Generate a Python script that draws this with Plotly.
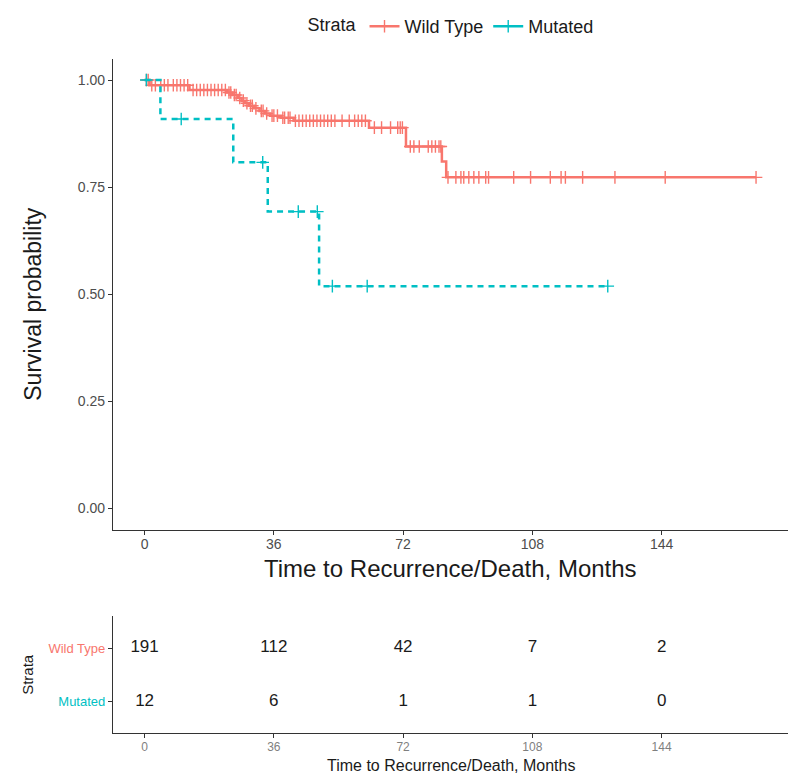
import numpy as np
import plotly.graph_objects as go

# ---------------- data ----------------
strata = ["Wild Type", "Mutated"]
colors = ["#F8766D", "#00BFC4"]

# Wild Type Kaplan-Meier steps (time in months, survival after step)
wt_time = [0, 1.4, 12.5, 23.0, 24.5, 26.0, 27.0, 28.0, 29.0, 30.5, 32.0, 33.5,
           35.0, 38.0, 41.5, 62.5, 72.8, 82.8, 84.0]
wt_surv = [1.0, 0.988, 0.977, 0.971, 0.965, 0.958, 0.952, 0.946, 0.940, 0.934,
           0.928, 0.922, 0.917, 0.912, 0.905, 0.889, 0.845, 0.810, 0.773]
wt_end = 170.3
wt_censor = [0.5, 1.0, 2.0, 3.0, 4.5, 5.5, 6.5, 8.0, 9.0, 10.0, 11.0, 12.0, 13.5,
             14.5, 15.5, 16.5, 17.5, 18.5, 19.5, 20.5, 21.5, 22.5,
             23.5, 24.0, 25.0, 25.5, 26.5, 27.5, 28.5, 29.5, 30.0, 31.0, 32.5,
             33.0, 34.0, 35.5, 36.0, 37.0, 38.5, 39.0, 40.0, 40.5,
             42.0, 43.0, 44.0, 45.0, 46.0, 47.0, 48.0, 49.0, 50.0, 51.0, 52.0,
             53.0, 55.0, 57.0, 58.5, 59.5, 60.5, 61.5,
             64.0, 66.0, 68.5, 70.5, 71.2, 71.8,
             74.0, 75.0, 76.5, 79.0, 80.0, 81.0, 82.0, 82.5,
             84.5, 86.7, 88.1, 88.9, 90.3, 91.7, 93.1, 95.0, 95.8, 102.8, 107.5,
             113.0, 116.0, 117.2, 122.0, 131.0, 145.0, 170.3]

# Mutated Kaplan-Meier steps
mu_time = [0, 4.4, 24.7, 34.3, 48.6]
mu_surv = [1.0, 0.909, 0.808, 0.693, 0.519]
mu_end = 129.0
mu_censor = [0.5, 10.2, 32.9, 42.8, 48.1, 52.3, 62.0, 129.0]

# Numbers at risk
risk_times = [0, 36, 72, 108, 144]
risk_wt = [191, 112, 42, 7, 2]
risk_mu = [12, 6, 1, 1, 0]

x_ticks = [0, 36, 72, 108, 144]
y_ticks = [0, 0.25, 0.5, 0.75, 1.0]
y_ticklabels = ["0.00", "0.25", "0.50", "0.75", "1.00"]

# ---------------- figure ----------------
OFF = 8                      # page body margin in the browser
W, H = 800 - OFF, 782 - OFF
FONT = "Liberation Sans, Arial, Helvetica, sans-serif"


def px_x(p):
    return (p - OFF) / W


def px_y(p):
    return 1 - (p - OFF) / H


def surv_at(times, surv, t):
    idx = np.searchsorted(np.array(times), t, side="right") - 1
    return [surv[i] for i in idx]


fig = go.Figure()

series = [
    (strata[0], colors[0], wt_time, wt_surv, wt_end, wt_censor, "solid"),
    (strata[1], colors[1], mu_time, mu_surv, mu_end, mu_censor, "6px,5px"),
]

for name, col, tt, ss, end, cens, dash in series:
    fig.add_trace(go.Scatter(
        x=list(tt) + [end], y=list(ss) + [ss[-1]],
        mode="lines", line=dict(color=col, width=2.5, dash=dash, shape="hv"),
        showlegend=False, hoverinfo="skip", xaxis="x", yaxis="y"))
    fig.add_trace(go.Scatter(
        x=cens, y=surv_at(tt, ss, cens), mode="markers",
        marker=dict(symbol="cross-thin", size=9, color=col,
                    line=dict(color=col, width=1.4)),
        showlegend=False, xaxis="x", yaxis="y"))
    # legend entry
    fig.add_trace(go.Scatter(
        x=[None], y=[None], mode="lines+markers", name=name,
        line=dict(color=col, width=2.3),
        marker=dict(symbol="cross-thin", size=9, color=col,
                    line=dict(color=col, width=1.4)),
        xaxis="x", yaxis="y"))

# risk table numbers
fig.add_trace(go.Scatter(
    x=risk_times + risk_times, y=[2] * len(risk_wt) + [1] * len(risk_mu),
    text=[str(v) for v in risk_wt + risk_mu], mode="text",
    textfont=dict(size=17, color="#1a1a1a", family=FONT),
    showlegend=False, hoverinfo="skip", xaxis="x2", yaxis="y2"))

x_dom = [px_x(113), px_x(788)]
axis_common = dict(showline=True, linecolor="#333333", linewidth=1.2,
                   ticks="outside", ticklen=4, tickcolor="#333333",
                   showgrid=False, zeroline=False)

fig.update_layout(
    width=W, height=H,
    margin=dict(l=0, r=0, t=0, b=0),
    paper_bgcolor="white", plot_bgcolor="white",
    font=dict(family=FONT, color="#1a1a1a"),
    xaxis=dict(domain=x_dom, range=[-8.8, 179.2], tickvals=x_ticks,
               tickfont=dict(size=14, color="#4d4d4d"), anchor="y",
               ticklabelstandoff=-3, **axis_common),
    yaxis=dict(domain=[px_y(528), px_y(53)], range=[-0.05, 1.05],
               tickvals=y_ticks, ticktext=y_ticklabels,
               tickfont=dict(size=14, color="#4d4d4d"), anchor="x",
               **axis_common),
    xaxis2=dict(domain=x_dom, range=[-8.8, 179.2], tickvals=x_ticks,
                tickfont=dict(size=12, color="#7f7f7f"), anchor="y2",
                ticklabelstandoff=-2, **axis_common),
    yaxis2=dict(domain=[px_y(733), px_y(615)], range=[0.4, 2.6],
                tickvals=[2, 1],
                ticktext=[f'<span style="color:{colors[0]}">{strata[0]}</span>',
                          f'<span style="color:{colors[1]}">{strata[1]}</span>'],
                tickfont=dict(size=13), anchor="x2", **axis_common),
    legend=dict(orientation="h", x=px_x(452), xanchor="center",
                y=px_y(2), yanchor="top",
                title=dict(text="Strata", side="left", font=dict(size=18)),
                font=dict(size=18, color="#1a1a1a"),
                itemwidth=30, tracegroupgap=0),
    annotations=[
        dict(text="Survival probability", x=px_x(33), y=px_y(300),
             xref="paper", yref="paper", textangle=-90, showarrow=False,
             font=dict(size=23, color="#1a1a1a"), xanchor="center", yanchor="middle"),
        dict(text="Time to Recurrence/Death, Months", x=px_x(450.5), y=px_y(567),
             xref="paper", yref="paper", showarrow=False,
             font=dict(size=24, color="#1a1a1a"), xanchor="center", yanchor="middle"),
        dict(text="Strata", x=px_x(28), y=px_y(674),
             xref="paper", yref="paper", textangle=-90, showarrow=False,
             font=dict(size=15, color="#1a1a1a"), xanchor="center", yanchor="middle"),
        dict(text="Time to Recurrence/Death, Months", x=px_x(450.5), y=px_y(765),
             xref="paper", yref="paper", showarrow=False,
             font=dict(size=16, color="#1a1a1a"), xanchor="center", yanchor="middle"),
    ],
)

fig.write_html("out.html")
